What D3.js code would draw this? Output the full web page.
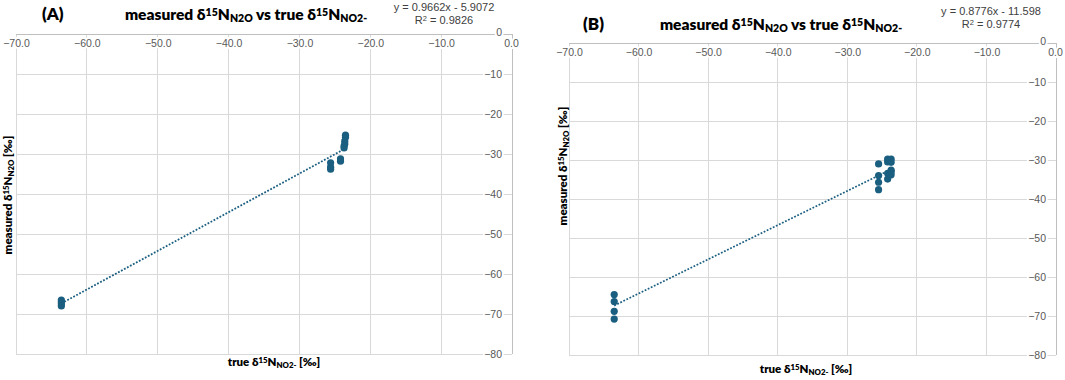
<!DOCTYPE html>
<html>
<head>
<meta charset="utf-8">
<script src="https://cdn.jsdelivr.net/npm/d3@7"></script>
<style>
  body { margin: 0; background: #fff; }
  svg { display: block; }
</style>
</head>
<body>
<div id="chart"></div>
<script>
// tick values shared by both panels
const xTicks = [-70, -60, -50, -40, -30, -20, -10, 0]
const yTicks = [0, -10, -20, -30, -40, -50, -60, -70, -80]

// panel A: true vs measured (‰)
const trueA = [-63.6, -63.6, -63.6, -63.6, -23.5, -23.5, -23.6, -23.6, -23.7, -23.7, -24.2, -24.2, -25.6, -25.6, -25.6]
const measuredA = [-66.5, -67.0, -67.5, -68.0, -25.3, -25.8, -26.8, -27.5, -28.0, -28.5, -31.2, -31.8, -32.2, -33.3, -33.8]
const fitA = [0.9662, -5.9072, 0.9826]

// panel B
const trueB = [-63.5, -63.5, -63.5, -63.5, -25.5, -25.5, -25.5, -25.5, -24.2, -24.2, -24.2, -24.2, -23.7, -23.7, -23.7, -23.7, -23.7]
const measuredB = [-64.5, -66.3, -68.8, -70.8, -31.0, -34.0, -35.7, -37.6, -29.8, -30.5, -33.4, -34.9, -29.8, -30.6, -32.6, -33.0, -33.8]
const fitB = [0.8776, -11.598, 0.9774]

const W = 1065, H = 380
const colors = {
    point: '#1a5e80',
    grid: '#d9d9d9',
    axis: '#bfbfbf',
    tick: '#595959',
    text: '#000'
}
const tickFont = '"Liberation Sans", Arial, sans-serif'
const titleFont = 'Lato, "Noto Sans", sans-serif'

const svg = d3.select('#chart').append('svg')
    .attr('width', W)
    .attr('height', H)

function richText(sel, parts, size) {
    // parts: [text, 'n'|'sup'|'sub']
    parts.forEach(([t, k]) => {
        const ts = sel.append('tspan').text(t)
        if (k === 'sup') ts.attr('font-size', size * 0.68).attr('baseline-shift', '38%')
        else if (k === 'sub') ts.attr('font-size', size * 0.68).attr('baseline-shift', '-22%')
    })
}

const titleParts = [['measured δ', 'n'], ['15', 'sup'], ['N', 'n'], ['N2O', 'sub'], [' vs true δ', 'n'], ['15', 'sup'], ['N', 'n'], ['NO2-', 'sub']]

function drawPanel(cfg) {
    const x = d3.scaleLinear().domain([-70, 0]).range([cfg.left, cfg.right])
    const y = d3.scaleLinear().domain([-80, 0]).range([cfg.bottom, cfg.top])
    const g = svg.append('g')

    // grid
    g.append('g').selectAll('line.gx').data(xTicks).join('line')
        .attr('x1', d => x(d)).attr('x2', d => x(d))
        .attr('y1', cfg.top).attr('y2', cfg.bottom)
        .attr('stroke', d => d === 0 ? colors.axis : colors.grid)
        .attr('stroke-width', 1)
        .attr('shape-rendering', 'crispEdges')
    g.append('g').selectAll('line.gy').data(yTicks).join('line')
        .attr('x1', cfg.left).attr('x2', cfg.right)
        .attr('y1', d => y(d)).attr('y2', d => y(d))
        .attr('stroke', d => d === 0 ? colors.axis : colors.grid)
        .attr('stroke-width', 1)
        .attr('shape-rendering', 'crispEdges')

    // axes: x axis along top (y = 0), y axis along right (x = 0)
    const xAxis = d3.axisBottom(x).tickValues(xTicks).tickFormat(d3.format('.1f')).tickSize(0).tickPadding(6)
    const gx = g.append('g').attr('transform', `translate(0,${y(0)})`).call(xAxis)
    const yAxis = d3.axisLeft(y).tickValues(yTicks).tickFormat(d => d3.format('d')(d)).tickSize(0).tickPadding(10)
    const gy = g.append('g').attr('transform', `translate(${x(0)},0)`).call(yAxis)
    ;[gx, gy].forEach(a => {
        a.select('.domain').remove()
        a.selectAll('text')
            .attr('font-family', tickFont)
            .attr('font-size', 10.5)
            .attr('fill', colors.tick)
            .attr('stroke', '#fff')
            .attr('stroke-width', 4)
            .attr('paint-order', 'stroke')
    })
    gx.selectAll('text').filter(d => d === 0).attr('dx', -1)
    gy.selectAll('text').filter(d => d === 0).attr('dy', '0.1em')

    // trendline
    const xs = d3.extent(cfg.xv)
    const fit = cfg.fit
    g.append('line')
        .attr('x1', x(xs[0])).attr('y1', y(fit[0] * xs[0] + fit[1]))
        .attr('x2', x(xs[1])).attr('y2', y(fit[0] * xs[1] + fit[1]))
        .attr('stroke', colors.point)
        .attr('stroke-width', 1.8)
        .attr('stroke-dasharray', '1.8,1.6')

    // points
    g.append('g').selectAll('circle').data(cfg.xv.map((v, i) => [v, cfg.yv[i]])).join('circle')
        .attr('cx', d => x(d[0]))
        .attr('cy', d => y(d[1]))
        .attr('r', 3.6)
        .attr('fill', colors.point)

    // panel label
    g.append('text')
        .attr('x', cfg.labelX).attr('y', cfg.titleY)
        .attr('font-family', titleFont).attr('font-weight', 800).attr('font-size', 17)
        .text(cfg.label)

    // title
    const t = g.append('text')
        .attr('x', cfg.titleX).attr('y', cfg.titleY)
        .attr('text-anchor', 'middle')
        .attr('font-family', titleFont).attr('font-weight', 800).attr('font-size', 15.5)
    richText(t, titleParts, 15.5)

    // equation
    g.append('text')
        .attr('x', cfg.eqX).attr('y', cfg.eqY)
        .attr('text-anchor', 'middle')
        .attr('font-family', tickFont).attr('font-size', 11).attr('fill', '#404040')
        .text(`y = ${fit[0]}x - ${Math.abs(fit[1])}`)
    const r2 = g.append('text')
        .attr('x', cfg.eqX).attr('y', cfg.eqY + 12.5)
        .attr('text-anchor', 'middle')
        .attr('font-family', tickFont).attr('font-size', 11).attr('fill', '#404040')
    richText(r2, [['R', 'n'], ['2', 'sup'], [` = ${fit[2]}`, 'n']], 11)

    // axis titles
    const xt = g.append('text')
        .attr('x', cfg.xTitleX).attr('y', cfg.xTitleY)
        .attr('text-anchor', 'middle')
        .attr('font-family', titleFont).attr('font-weight', 800).attr('font-size', 11.5)
    richText(xt, [['true δ', 'n'], ['15', 'sup'], ['N', 'n'], ['NO2-', 'sub'], [' [‰]', 'n']], 11.5)

    const yt = g.append('text')
        .attr('transform', `translate(${cfg.yTitleX},${cfg.yTitleY}) rotate(-90)`)
        .attr('text-anchor', 'middle')
        .attr('font-family', titleFont).attr('font-weight', 800).attr('font-size', 11.5)
    richText(yt, [['measured δ', 'n'], ['15', 'sup'], ['N', 'n'], ['N2O', 'sub'], [' [‰]', 'n']], 11.5)
}

drawPanel({
    xv: trueA, yv: measuredA, fit: fitA, label: '(A)',
    left: 16, right: 512, top: 34, bottom: 354,
    labelX: 42, titleX: 246, titleY: 20,
    eqX: 444, eqY: 11,
    xTitleX: 274, xTitleY: 366,
    yTitleX: 12, yTitleY: 195
})

drawPanel({
    xv: trueB, yv: measuredB, fit: fitB, label: '(B)',
    left: 569, right: 1056, top: 43, bottom: 355,
    labelX: 583, titleX: 781, titleY: 30,
    eqX: 991, eqY: 15,
    xTitleX: 806, xTitleY: 373,
    yTitleX: 567, yTitleY: 166
})
</script>
</body>
</html>
